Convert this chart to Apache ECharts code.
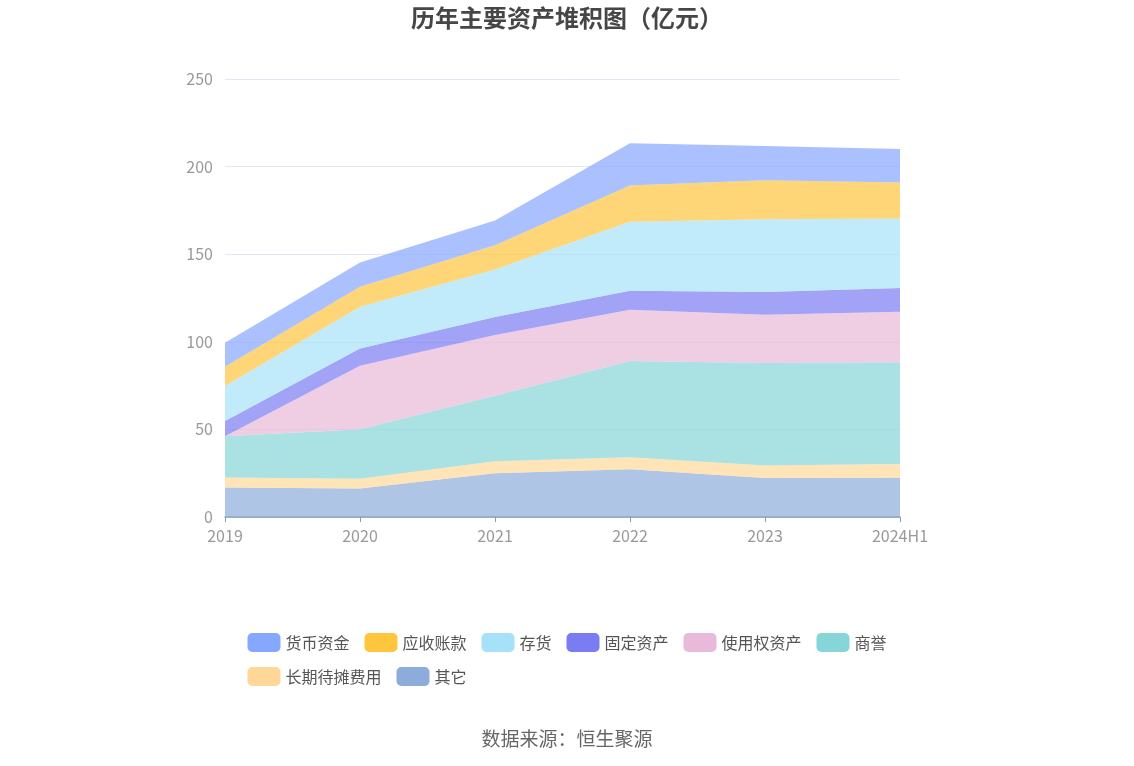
<!DOCTYPE html>
<html>
<head>
<meta charset="utf-8">
<script src="https://cdn.jsdelivr.net/npm/echarts@6/dist/echarts.min.js"></script>
<style>
html,body{margin:0;padding:0;background:#fff;}
#c{width:1134px;height:766px;}
</style>
</head>
<body>
<div id="c"></div>
<script>
var categories = ['2019','2020','2021','2022','2023','2024H1'];
var legendOrder = ['货币资金','应收账款','存货','固定资产','使用权资产','商誉','长期待摊费用','其它'];
var qita      = [16.8, 16.2, 25.0, 27.3, 22.2, 22.4];
var changqi   = [5.7, 5.7, 6.8, 6.8, 7.2, 7.8];
var shangyu   = [23.6, 28.2, 37.4, 55.0, 58.5, 58.1];
var shiyongquan = [0, 36.2, 34.7, 29.2, 27.6, 28.9];
var guding    = [8.7, 9.9, 10.2, 10.8, 12.9, 13.5];
var cunhuo    = [20.0, 23.8, 27.1, 39.4, 41.6, 39.7];
var yingshou  = [10.9, 11.4, 13.9, 20.7, 22.2, 20.5];
var huobi     = [13.7, 13.9, 14.2, 24.1, 19.6, 19.2];
var yTicks = [0, 50, 100, 150, 200, 250];

var stackSeries = [
  ['其它', qita, '#8CADDB'],
  ['长期待摊费用', changqi, '#FFD898'],
  ['商誉', shangyu, '#86D5D9'],
  ['使用权资产', shiyongquan, '#E8B9D9'],
  ['固定资产', guding, '#7A7CF2'],
  ['存货', cunhuo, '#A6E1FA'],
  ['应收账款', yingshou, '#FFC53D'],
  ['货币资金', huobi, '#87A7FF']
];

var chart = echarts.init(document.getElementById('c'));
var font = '"Noto Sans CJK SC", "Noto Sans", sans-serif';
chart.setOption({
  animation: false,
  textStyle: {fontFamily: font},
  title: {
    text: '历年主要资产堆积图（亿元）',
    left: 'center', top: 1,
    textStyle: {fontSize: 24, fontWeight: 'bold', color: '#464646', fontFamily: font}
  },
  legend: {
    data: legendOrder,
    left: 'center',
    top: 628,
    width: 700,
    itemWidth: 33,
    itemHeight: 19,
    itemGap: 15,
    icon: 'roundRect',
    textStyle: {fontSize: 16, color: '#555', fontFamily: font}
  },
  graphic: [{
    type: 'text', left: 'center', top: 729,
    style: {text: '数据来源：恒生聚源', fontSize: 19, fill: '#666', fontFamily: font}
  }],
  grid: {left: 225, right: 234, top: 79, bottom: 249},
  xAxis: {
    type: 'category',
    data: categories,
    boundaryGap: false,
    axisLine: {lineStyle: {color: '#8D9AAE', width: 1.5}},
    axisTick: {show: true, lineStyle: {color: '#8D9AAE'}},
    axisLabel: {fontSize: 16, color: '#999', margin: 11}
  },
  yAxis: {
    type: 'value',
    min: yTicks[0], max: yTicks[yTicks.length - 1], interval: 50,
    axisLine: {show: false},
    axisTick: {show: false},
    axisLabel: {fontSize: 16, color: '#999', margin: 12},
    splitLine: {lineStyle: {color: '#E3E7F3'}}
  },
  series: stackSeries.map(function (s) {
    return {
      name: s[0], type: 'line', stack: 'total', data: s[1],
      symbol: 'none', showSymbol: false,
      itemStyle: {color: s[2]},
      lineStyle: {width: 0, color: s[2]},
      areaStyle: {color: s[2], opacity: 0.7}
    };
  })
});
</script>
</body>
</html>
